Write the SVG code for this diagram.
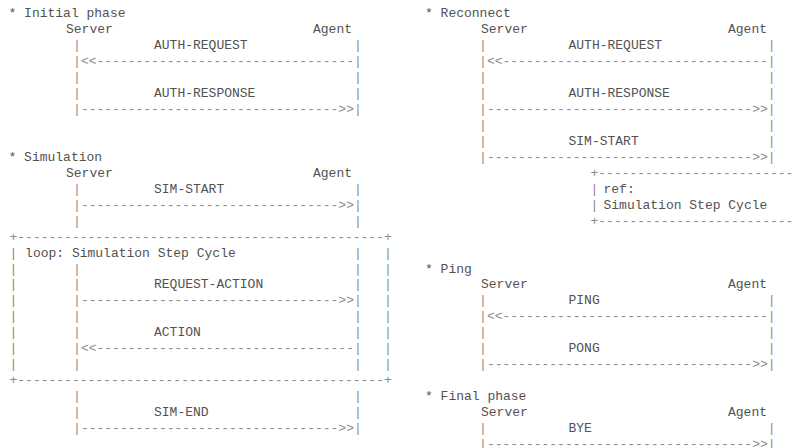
<svg xmlns="http://www.w3.org/2000/svg" width="792" height="448" viewBox="0 0 792 448">
<style>
text{font-family:"Liberation Mono","DejaVu Sans Mono",monospace;font-size:13px;white-space:pre}
.t{fill:#525252}
.c{fill:#8a8a8a}
.m{text-anchor:middle}
</style>
<rect width="792" height="448" fill="#ffffff"/>
<g id="initial-phase">
<text class="t" x="8.5" y="17.3">* Initial phase</text>
<text class="t" x="66" y="33.25">Server</text>
<text class="t" x="313" y="33.25">Agent</text>
<text class="t" x="154" y="49.2">AUTH-REQUEST</text>
<text class="t" x="154" y="97.05">AUTH-RESPONSE</text>
</g>
<g id="simulation">
<text class="t" x="8.5" y="160.85">* Simulation</text>
<text class="t" x="66" y="176.8">Server</text>
<text class="t" x="313" y="176.8">Agent</text>
<text class="t" x="154" y="192.75">SIM-START</text>
<text class="t" x="154" y="288.45">REQUEST-ACTION</text>
<text class="t" x="154" y="336.3">ACTION</text>
<text class="t" x="154" y="416.05">SIM-END</text>
</g>
<g id="loop-frame">
<text class="c" x="9.5" y="240.6">+-----------------------------------------------+</text>
<text class="c m" x="13.4" y="256.55">|</text>
<text class="t" x="25.1" y="256.55">loop: Simulation Step Cycle</text>
<text class="c m" x="357.8 387.8" y="256.55">||</text>
<text class="c m" x="13.4 387.8" y="272.5">||</text>
<text class="c m" x="13.4 387.8" y="288.45">||</text>
<text class="c m" x="13.4 387.8" y="304.4">||</text>
<text class="c m" x="13.4 387.8" y="320.35">||</text>
<text class="c m" x="13.4 387.8" y="336.3">||</text>
<text class="c m" x="13.4 387.8" y="352.25">||</text>
<text class="c m" x="13.4 387.8" y="368.2">||</text>
<text class="c" x="9.5" y="384.15">+-----------------------------------------------+</text>
</g>
<g id="reconnect">
<text class="t" x="425" y="17.3">* Reconnect</text>
<text class="t" x="481" y="33.25">Server</text>
<text class="t" x="728" y="33.25">Agent</text>
<text class="t" x="568.5" y="49.2">AUTH-REQUEST</text>
<text class="t" x="568.5" y="97.05">AUTH-RESPONSE</text>
<text class="t" x="568.5" y="144.9">SIM-START</text>
</g>
<g id="ref-frame">
<text class="c" x="590.5" y="176.8">+-------------------------</text>
<text class="c m" x="594.4" y="192.75">|</text>
<text class="t" x="603.5" y="192.75">ref:</text>
<text class="c m" x="594.4" y="208.7">|</text>
<text class="t" x="603.5" y="208.7">Simulation Step Cycle</text>
<text class="c" x="590.5" y="224.65">+-------------------------</text>
</g>
<g id="ping">
<text class="t" x="425" y="272.5">* Ping</text>
<text class="t" x="481" y="288.45">Server</text>
<text class="t" x="728" y="288.45">Agent</text>
<text class="t" x="568.5" y="304.4">PING</text>
<text class="t" x="568.5" y="352.25">PONG</text>
</g>
<g id="final-phase">
<text class="t" x="425" y="400.1">* Final phase</text>
<text class="t" x="481" y="416.05">Server</text>
<text class="t" x="728" y="416.05">Agent</text>
<text class="t" x="568.5" y="432">BYE</text>
</g>
<g id="connectors">
<text class="c m" x="77 357.8" y="49.2">||</text>
<text class="c" x="73.1" y="65.15">|&lt;&lt;---------------------------------|</text>
<text class="c m" x="77 357.8" y="81.1">||</text>
<text class="c m" x="77 357.8" y="97.05">||</text>
<text class="c" x="73.1" y="113">|---------------------------------&gt;&gt;|</text>
<text class="c m" x="77 357.8" y="192.75">||</text>
<text class="c" x="73.1" y="208.7">|---------------------------------&gt;&gt;|</text>
<text class="c m" x="77 357.8" y="224.65">||</text>
<text class="c m" x="77" y="272.5">|</text>
<text class="c m" x="357.8" y="272.5">|</text>
<text class="c m" x="77 357.8" y="288.45">||</text>
<text class="c" x="73.1" y="304.4">|---------------------------------&gt;&gt;|</text>
<text class="c m" x="77 357.8" y="320.35">||</text>
<text class="c m" x="77 357.8" y="336.3">||</text>
<text class="c" x="73.1" y="352.25">|&lt;&lt;---------------------------------|</text>
<text class="c m" x="77 357.8" y="368.2">||</text>
<text class="c m" x="77 357.8" y="400.1">||</text>
<text class="c m" x="77 357.8" y="416.05">||</text>
<text class="c" x="73.1" y="432">|---------------------------------&gt;&gt;|</text>
<text class="c m" x="483 771.6" y="49.2">||</text>
<text class="c" x="479.1" y="65.15">|&lt;&lt;----------------------------------|</text>
<text class="c m" x="483 771.6" y="81.1">||</text>
<text class="c m" x="483 771.6" y="97.05">||</text>
<text class="c" x="479.1" y="113">|----------------------------------&gt;&gt;|</text>
<text class="c m" x="483 771.6" y="128.95">||</text>
<text class="c m" x="483 771.6" y="144.9">||</text>
<text class="c" x="479.1" y="160.85">|----------------------------------&gt;&gt;|</text>
<text class="c m" x="483 771.6" y="304.4">||</text>
<text class="c" x="479.1" y="320.35">|&lt;&lt;----------------------------------|</text>
<text class="c m" x="483 771.6" y="336.3">||</text>
<text class="c m" x="483 771.6" y="352.25">||</text>
<text class="c" x="479.1" y="368.2">|----------------------------------&gt;&gt;|</text>
<text class="c m" x="483 771.6" y="432">||</text>
<text class="c" x="479.1" y="447.95">|----------------------------------&gt;&gt;|</text>
</g>
</svg>
